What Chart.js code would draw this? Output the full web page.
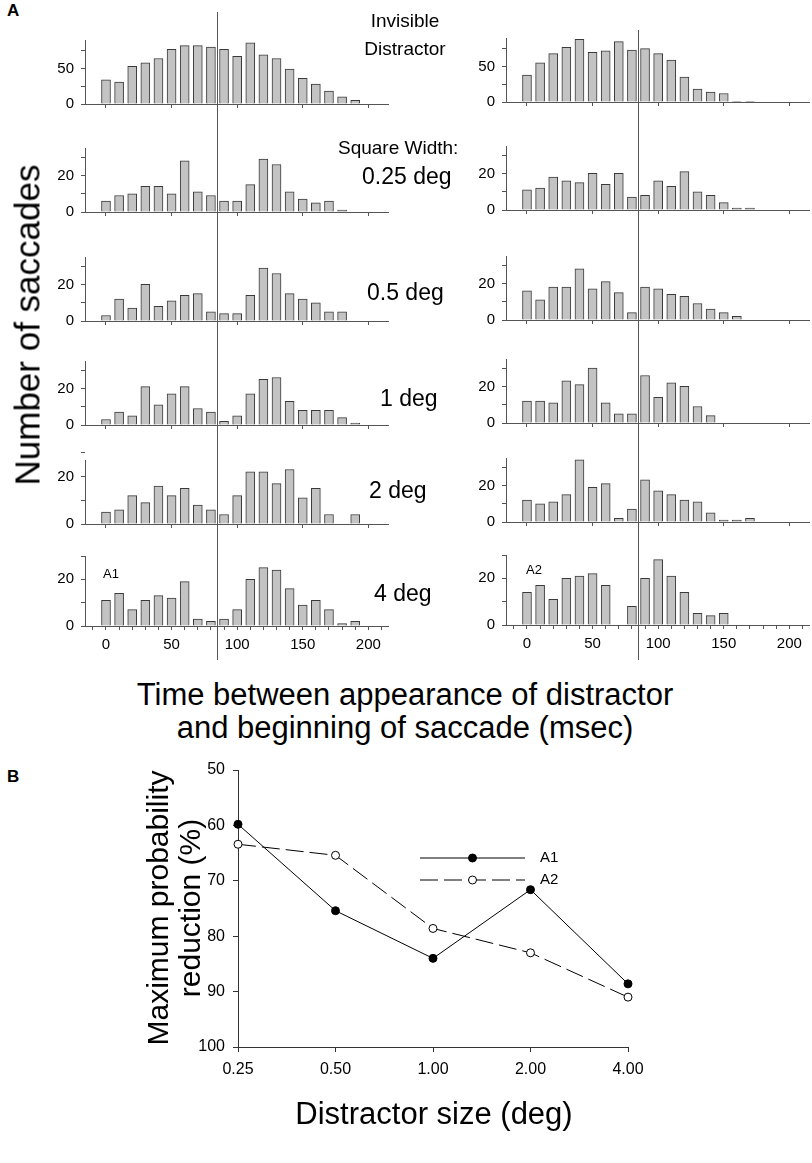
<!DOCTYPE html>
<html><head><meta charset="utf-8">
<script src="https://cdn.jsdelivr.net/npm/chart.js@4.4.1/dist/chart.umd.min.js"></script>
<style>
body{margin:0;width:812px;height:1163px;background:#fff;position:relative;overflow:hidden;font-family:"Liberation Sans",Arial,sans-serif;}
canvas{position:absolute;z-index:1;}
.t{position:absolute;z-index:2;white-space:nowrap;color:#000;line-height:1;font-family:"Liberation Sans",Arial,sans-serif;}
.c{transform:translate(-50%,-50%);}
.l{transform:translate(0,-50%);}
.r{transform:translate(-50%,-50%) rotate(-90deg);}
</style></head><body>
<div class="t" style="left:7px;top:2px;font-size:17px;font-weight:bold;">A</div>
<div class="t c" style="left:405px;top:20px;font-size:19px;">Invisible</div>
<div class="t c" style="left:405px;top:48px;font-size:19px;">Distractor</div>
<div class="t l" style="left:338px;top:147px;font-size:19px;">Square Width:</div>
<div class="t l" style="left:362px;top:176px;font-size:23px;">0.25 deg</div>
<div class="t l" style="left:367px;top:292px;font-size:23px;">0.5 deg</div>
<div class="t l" style="left:380px;top:398px;font-size:23px;">1 deg</div>
<div class="t l" style="left:369px;top:490px;font-size:23px;">2 deg</div>
<div class="t l" style="left:374px;top:593px;font-size:23px;">4 deg</div>
<div class="t c" style="left:111px;top:573px;font-size:13px;">A1</div>
<div class="t c" style="left:534px;top:569px;font-size:13px;">A2</div>
<div class="t r" style="left:27px;top:325px;font-size:35px;">Number of saccades</div>
<div class="t c" style="left:405px;top:694px;font-size:31px;">Time between appearance of distractor</div>
<div class="t c" style="left:405px;top:727px;font-size:31px;">and beginning of saccade (msec)</div>
<div class="t" style="left:7px;top:768px;font-size:17px;font-weight:bold;">B</div>
<div class="t r" style="left:158px;top:908px;font-size:30px;">Maximum probability</div>
<div class="t r" style="left:190px;top:908px;font-size:30px;">reduction (%)</div>
<div class="t c" style="left:434px;top:1113px;font-size:31px;">Distractor size (deg)</div>
<script>
// ---------- DATA ----------
const binStarts = [0,10,20,30,40,50,60,70,80,90,100,110,120,130,140,150,160,170,180,190];
// Monkey A1 (left column)
const a1Invisible = [34,31,53,58,64,77,82,82,80,77,67,86,69,64,49,36,28,18,10,5];
const a1W025 = [6,9,10,14,14,10,28,11,9,6,6,15,29,26,11,7,5,6,1,0];
const a1W05  = [3,12,7,20,8,11,14,15,5,4,4,14,29,26,15,12,10,5,5,0];
const a1W1   = [3,7,5,21,11,17,21,9,7,2,5,17,25,26,13,8,8,8,4,1];
const a1W2   = [5,6,12,9,16,12,15,8,6,4,12,22,22,17,23,11,15,4,0,4];
const a1W4   = [11,14,7,11,13,12,19,3,2,3,7,20,25,24,16,9,11,7,1,2];
// Monkey A2 (right column)
const a2Invisible = [38,55,68,77,88,70,72,85,73,75,68,59,35,18,14,12,1,1,0,0];
const a2W025 = [11,12,18,16,15,20,14,20,7,8,16,13,21,10,8,4,1,1,0,0];
const a2W05  = [16,11,18,18,28,17,21,15,4,18,17,14,13,9,6,4,2,0,0,0];
const a2W1   = [12,12,11,23,21,30,11,5,5,26,14,22,20,9,4,0,0,0,0,0];
const a2W2   = [12,10,11,15,34,19,21,2,7,23,17,15,12,11,5,1,1,2,0,0];
const a2W4   = [14,17,11,20,21,22,17,0,8,20,28,21,14,5,4,5,0,0,0,0];
const cutoffMs = 85;
// Tick labels
const histXMajor = [0,50,100,150,200];
const histXAll = [-10,0,10,20,30,40,50,60,70,80,90,100,110,120,130,140,150,160,170,180,190,200,210];
const yTicksBig = [0,25,50,75];
const yLabelsBig = [0,50];
const yTicksSmall = [0,10,20,30];
const yLabelsSmall = [0,20];
// Panel B
const sizeLabels = ['0.25','0.50','1.00','2.00','4.00'];
const a1Reduction = [59.8,75.4,84.0,71.6,88.6];
const a2Reduction = [63.4,65.4,78.6,83.0,91.0];
const bYTicks = [50,60,70,80,90,100];

// ---------- HISTOGRAMS ----------
const FONT = "'Liberation Sans', Arial, sans-serif";
const refLine = {
  id:'refLine',
  afterDatasetsDraw(chart, args, o){
    const x = Math.round(chart.scales.x.getPixelForValue(o.value)) + 0.5;
    const ctx = chart.ctx; ctx.save();
    ctx.strokeStyle = '#555'; ctx.lineWidth = 1;
    ctx.beginPath(); ctx.moveTo(x, o.y0); ctx.lineTo(x, o.y1); ctx.stroke(); ctx.restore();
  }
};

function panel(counts, p){
  const plotW = 303, leftW = 60, rightPad = 8;
  const cv = document.createElement('canvas');
  const W = leftW + plotW + rightPad, H = p.cBottom - p.cTop;
  cv.width = W; cv.height = H;
  cv.style.left = (p.axisX - leftW) + 'px'; cv.style.top = p.cTop + 'px';
  cv.style.width = W + 'px'; cv.style.height = H + 'px';
  document.body.appendChild(cv);
  const panelTop = p.zeroY - p.plotH;
  const xt = p.bottom ? histXAll : histXMajor;
  new Chart(cv, {
    type:'bar',
    data:{datasets:[{
      data: binStarts.map((b,i)=>({x:b, y:counts[i]})),
      backgroundColor:'#c3c3c3', borderColor:'#3a3a3a', borderWidth:1, barThickness:9
    }]},
    options:{
      responsive:false, animation:false, devicePixelRatio:1,
      layout:{padding:{top:panelTop - p.cTop, left:0, right:rightPad, bottom:0}},
      plugins:{legend:{display:false}, tooltip:{enabled:false},
        refLine:{value:cutoffMs, y0:p.lineTop - p.cTop, y1:p.lineBottom - p.cTop}},
      scales:{
        x:{type:'linear', min:-16, max:215, offset:false,
          afterFit:s=>{s.height = p.cBottom - p.zeroY;},
          afterBuildTicks:s=>{s.ticks = xt.map(v=>({value:v}));},
          grid:{drawOnChartArea:false, offset:false, tickLength:4, color:'#555'},
          border:{color:'#555', width:1},
          ticks:{display:!!p.bottom, autoSkip:false, maxRotation:0, padding:6, color:'#000',
            font:{family:FONT, size:15},
            callback:v=> histXMajor.includes(v) ? String(v) : ''}
        },
        y:{min:0, max:p.yMax,
          afterFit:s=>{s.width = leftW;},
          afterBuildTicks:s=>{s.ticks = p.yTicks.map(v=>({value:v}));},
          grid:{drawOnChartArea:false, tickLength:4, color:'#555'},
          border:{color:'#555', width:1},
          ticks:{padding:7, color:'#000', font:{family:FONT, size:15},
            callback:v=> p.yLabels.includes(v) ? String(v) : ''}
        }
      }
    },
    plugins:[refLine]
  });
}

const leftSeries = [a1Invisible,a1W025,a1W05,a1W1,a1W2,a1W4];
const rightSeries = [a2Invisible,a2W025,a2W05,a2W1,a2W2,a2W4];
const leftZero = [110,218,327,431,530,626];
const rightZero = [108,216,326,429,528,625];
const leftMax = [90,35,35,35,27,30];
const rightMax = [90,35,35,35,35,30];
function column(series, zeros, maxes, axisX, lineTop){
  series.forEach((s,k)=>{
    const cTop = k===0 ? 0 : zeros[k-1] + 10;
    const cBottom = k===5 ? 672 : zeros[k] + 10;
    panel(s, {axisX, zeroY:zeros[k], plotH:70, yMax:maxes[k],
      yTicks: k===0 ? yTicksBig : yTicksSmall,
      yLabels: k===0 ? yLabelsBig : yLabelsSmall,
      bottom: k===5, cTop, cBottom,
      lineTop: k===0 ? lineTop : cTop, lineBottom: k===5 ? 660 : cBottom});
  });
}
column(leftSeries, leftZero, leftMax, 85, 12);
column(rightSeries, rightZero, rightMax, 506, 30);

// ---------- PANEL B ----------
const legendPlugin = {
  id:'lineLegend',
  afterDatasetsDraw(chart, args, o){
    const ctx = chart.ctx; ctx.save();
    chart.data.datasets.forEach((ds,i)=>{
      const y = o.y + i*o.gap;
      ctx.strokeStyle = ds.borderColor; ctx.lineWidth = ds.borderWidth;
      ctx.setLineDash(ds.borderDash || []);
      ctx.beginPath(); ctx.moveTo(o.x0, y); ctx.lineTo(o.x1, y); ctx.stroke();
      ctx.setLineDash([]);
      ctx.beginPath(); ctx.arc((o.x0+o.x1)/2, y, ds.pointRadius, 0, Math.PI*2);
      ctx.fillStyle = ds.pointBackgroundColor; ctx.fill();
      ctx.strokeStyle = ds.pointBorderColor; ctx.stroke();
      ctx.fillStyle = '#000'; ctx.font = "15px " + FONT; ctx.textBaseline = 'middle';
      ctx.fillText(ds.label, o.tx, y);
    });
    ctx.restore();
  }
};
(function(){
  const cv = document.createElement('canvas');
  const L = 130, T = 750, W = 560, H = 400;
  cv.width = W; cv.height = H; cv.style.left = L+'px'; cv.style.top = T+'px';
  cv.style.width = W+'px'; cv.style.height = H+'px';
  document.body.appendChild(cv);
  const areaL = 238, areaR = 628, areaT = 770, areaB = 1047;
  new Chart(cv, {
    type:'line',
    data:{labels:sizeLabels, datasets:[
      {label:'A1', data:a1Reduction, borderColor:'#000', borderWidth:1, pointRadius:4,
       pointBackgroundColor:'#000', pointBorderColor:'#000', pointBorderWidth:1, fill:false, tension:0},
      {label:'A2', data:a2Reduction, borderColor:'#000', borderWidth:1, borderDash:[18,6], pointRadius:4,
       pointBackgroundColor:'#fff', pointBorderColor:'#000', pointBorderWidth:1, fill:false, tension:0}
    ]},
    options:{
      responsive:false, animation:false, devicePixelRatio:1,
      layout:{padding:{top:areaT-T, left:0, right:(L+W)-areaR, bottom:0}},
      plugins:{legend:{display:false}, tooltip:{enabled:false},
        lineLegend:{x0:420-L, x1:525-L, y:858-T, gap:22, tx:540-L}},
      scales:{
        x:{type:'category', offset:false,
          afterFit:s=>{s.height = (T+H) - areaB;},
          grid:{drawOnChartArea:false, tickLength:5, color:'#333'},
          border:{color:'#333'},
          ticks:{padding:8, color:'#000', font:{family:FONT, size:16}, maxRotation:0}
        },
        y:{min:50, max:100, reverse:true,
          afterFit:s=>{s.width = areaL - L;},
          afterBuildTicks:s=>{s.ticks = bYTicks.map(v=>({value:v}));},
          grid:{drawOnChartArea:false, tickLength:5, color:'#333'},
          border:{color:'#333'},
          ticks:{padding:8, color:'#000', font:{family:FONT, size:16}}
        }
      }
    },
    plugins:[legendPlugin]
  });
})();
</script>
</body></html>
